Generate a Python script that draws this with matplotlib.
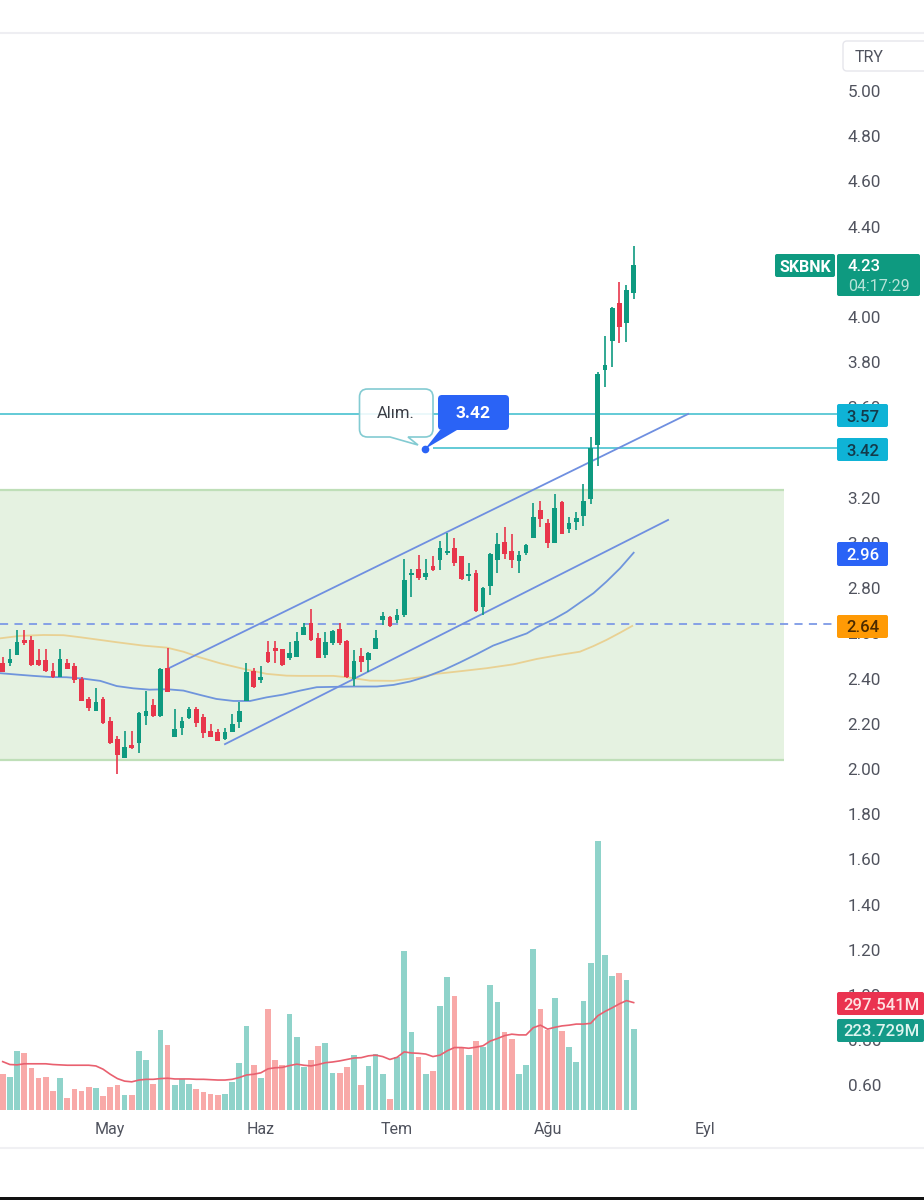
"""SKBNK daily candles with volume, channel and price tags."""
import matplotlib
matplotlib.use('Agg')
import matplotlib.pyplot as plt
import numpy as np
from matplotlib.patches import FancyBboxPatch, PathPatch, Rectangle
from matplotlib.path import Path

plt.rcParams['font.family'] = ['Roboto', 'DejaVu Sans']

OPENS = [2.471, 2.471, 2.505, 2.571, 2.571, 2.482, 2.482, 2.435, 2.409, 2.468,
         2.457, 2.400, 2.308, 2.258, 2.308, 2.214, 2.131, 2.050, 2.106, 2.114,
         2.236, 2.283, 2.233, 2.449, 2.143, 2.180, 2.224, 2.266, 2.232, 2.168,
         2.162, 2.131, 2.162, 2.210, 2.301, 2.434, 2.394, 2.519, 2.537, 2.530,
         2.490, 2.494, 2.593, 2.645, 2.578, 2.505, 2.556, 2.620, 2.567, 2.398,
         2.500, 2.483, 2.531, 2.660, 2.674, 2.660, 2.682, 2.857, 2.885, 2.851,
         2.898, 2.925, 2.957, 2.977, 2.943, 2.854, 2.869, 2.716, 2.810, 2.925,
         3.006, 2.965, 2.922, 2.955, 3.024, 3.146, 3.090, 3.002, 3.183, 3.062,
         3.095, 3.120, 3.193, 3.434, 3.765, 3.895, 4.063, 3.975, 4.105]
HIGHS = [2.497, 2.530, 2.615, 2.615, 2.590, 2.530, 2.530, 2.468, 2.530, 2.485,
         2.468, 2.406, 2.320, 2.357, 2.320, 2.229, 2.148, 2.168, 2.168, 2.254,
         2.345, 2.308, 2.449, 2.536, 2.266, 2.229, 2.276, 2.276, 2.242, 2.198,
         2.177, 2.183, 2.242, 2.295, 2.468, 2.449, 2.456, 2.567, 2.567, 2.530,
         2.561, 2.608, 2.645, 2.708, 2.600, 2.608, 2.615, 2.645, 2.571, 2.527,
         2.534, 2.519, 2.615, 2.693, 2.677, 2.707, 2.928, 2.884, 2.947, 2.928,
         2.943, 3.009, 3.043, 3.021, 2.944, 2.913, 2.881, 2.804, 2.957, 3.043,
         3.070, 3.040, 2.965, 2.996, 3.179, 3.188, 3.105, 3.216, 3.186, 3.117,
         3.136, 3.260, 3.471, 3.758, 3.916, 4.043, 4.156, 4.142, 4.316]
LOWS = [2.428, 2.457, 2.505, 2.549, 2.457, 2.457, 2.431, 2.401, 2.406, 2.443,
        2.379, 2.303, 2.257, 2.258, 2.199, 2.111, 1.978, 2.050, 2.089, 2.070,
        2.195, 2.229, 2.229, 2.339, 2.143, 2.151, 2.221, 2.188, 2.136, 2.140,
        2.123, 2.129, 2.162, 2.180, 2.301, 2.360, 2.379, 2.468, 2.468, 2.457,
        2.482, 2.494, 2.593, 2.568, 2.490, 2.490, 2.549, 2.549, 2.401, 2.367,
        2.431, 2.431, 2.530, 2.637, 2.630, 2.645, 2.674, 2.760, 2.836, 2.836,
        2.878, 2.881, 2.947, 2.898, 2.836, 2.832, 2.696, 2.682, 2.770, 2.869,
        2.929, 2.888, 2.869, 2.947, 3.021, 3.072, 2.977, 2.999, 3.039, 3.046,
        3.058, 3.075, 3.173, 3.341, 3.692, 3.777, 3.884, 3.888, 4.078]
CLOSES = [2.428, 2.488, 2.561, 2.556, 2.460, 2.460, 2.434, 2.409, 2.488, 2.443,
          2.394, 2.303, 2.269, 2.295, 2.202, 2.114, 2.062, 2.099, 2.092, 2.247,
          2.258, 2.233, 2.443, 2.339, 2.177, 2.214, 2.266, 2.205, 2.161, 2.140,
          2.126, 2.165, 2.198, 2.258, 2.431, 2.365, 2.409, 2.472, 2.524, 2.460,
          2.512, 2.567, 2.627, 2.571, 2.490, 2.561, 2.611, 2.556, 2.406, 2.480,
          2.475, 2.512, 2.578, 2.677, 2.633, 2.680, 2.836, 2.866, 2.847, 2.869,
          2.881, 2.977, 2.966, 2.910, 2.842, 2.863, 2.701, 2.800, 2.952, 2.996,
          2.952, 2.925, 2.947, 2.991, 3.117, 3.106, 2.999, 3.154, 3.040, 3.090,
          3.109, 3.186, 3.419, 3.748, 3.788, 4.038, 3.957, 4.120, 4.230]

# volume in millions
VOLUMES = [99, 92, 164, 157, 115, 88, 92, 54, 88, 34,
           57, 54, 65, 61, 38, 65, 68, 42, 42, 164,
           138, 73, 222, 180, 68, 86, 73, 57, 49, 45,
           42, 45, 77, 130, 234, 126, 88, 280, 138, 125,
           265, 203, 118, 138, 176, 185, 103, 103, 118, 152,
           68, 123, 155, 99, 30, 148, 441, 215, 148, 99,
           107, 288, 368, 315, 171, 152, 192, 175, 345, 299,
           215, 198, 99, 126, 445, 280, 222, 311, 219, 175,
           134, 303, 406, 746, 430, 372, 380, 360, 224]
VOLUME_MA = [134, 126, 125, 128, 128, 128, 128, 126, 125, 124,
             124, 124, 124, 122, 113, 99, 87, 80, 78, 83,
             85, 85, 87, 88, 86, 86, 86, 85, 85, 84,
             83, 83, 85, 90, 97, 99, 103, 114, 117, 118,
             123, 127, 124, 122, 126, 131, 133, 136, 140, 144,
             145, 150, 152, 148, 140, 146, 161, 158, 157, 155,
             148, 152, 164, 173, 173, 171, 174, 178, 191, 198,
             206, 210, 208, 208, 228, 235, 224, 229, 233, 235,
             238, 238, 240, 261, 273, 283, 294, 303, 297.5]

BLUE_X = [-0.4, 1.9, 4.3, 6.6, 8.9, 11.2, 13.6, 15.9, 18.2, 20.5, 22.9, 25.2, 27.5,
          29.8, 32.2, 34.5, 36.8, 39.1, 41.5, 43.8, 48.9, 52.2, 54.5, 56.8, 59.1,
          61.5, 63.8, 66.1, 68.4, 70.8, 73.1, 74.5, 76.8, 78.7, 80.5, 82.4, 84.2, 86.1, 88]
BLUE_Y = [2.424, 2.418, 2.412, 2.407, 2.406, 2.400, 2.390, 2.367, 2.357, 2.351, 2.353,
          2.347, 2.328, 2.310, 2.301, 2.301, 2.317, 2.329, 2.347, 2.362, 2.365, 2.365,
          2.372, 2.387, 2.409, 2.438, 2.472, 2.508, 2.546, 2.574, 2.600, 2.627, 2.662,
          2.696, 2.736, 2.778, 2.829, 2.888, 2.957]
TAN_X = [-0.4, 2.4, 5.7, 8.5, 10.8, 13.6, 15.9, 19.6, 22.9, 25.2, 27.5, 30.3, 33.6,
         36.8, 39.6, 41.5, 44.3, 46.1, 48, 51.2, 54.5, 58.2, 60.5, 64.2, 67.5, 71.2,
         74.5, 77.7, 80.5, 82.4, 84.2, 86.1, 87.8]
TAN_Y = [2.578, 2.589, 2.593, 2.592, 2.583, 2.571, 2.561, 2.546, 2.537, 2.519, 2.494,
         2.468, 2.443, 2.421, 2.413, 2.412, 2.412, 2.412, 2.406, 2.391, 2.390, 2.406,
         2.421, 2.434, 2.446, 2.463, 2.487, 2.505, 2.519, 2.544, 2.571, 2.603, 2.633]

UPPER_X, UPPER_Y = [23.3, 95.6], [2.448, 3.571]
LOWER_X, LOWER_Y = [31, 92.8], [2.11, 3.102]

BOX_RIGHT, BOX_LOW, BOX_HIGH = 109, 2.04, 3.234
LEVEL_TOP, LEVEL_BUY, LEVEL_DASH = 3.57, 3.42, 2.64
BUY_BAR = 59

# 3.40 and 4.20 sit fully behind the price tags in the chart, so they are left out
PRICE_TICKS = [0.6, 0.8, 1.0, 1.2, 1.4, 1.6, 1.8, 2.0, 2.2, 2.4, 2.6, 2.8,
               3.0, 3.2, 3.6, 3.8, 4.0, 4.4, 4.6, 4.8, 5.0]
MONTH_BARS = [15, 36, 55, 76, 98]
MONTHS = ['May', 'Haz', 'Tem', 'Ağu', 'Eyl']

GREEN, RED = '#0e9a80', '#e8364b'
VOL_GREEN, VOL_RED = '#8fd3ca', '#f8a9a8'
TEXT = '#50535e'
CYAN_LINE, CYAN_TAG = '#56c6d3', '#0fb3d6'
BLUE_TAG, ORANGE = '#2a63f6', '#ff9a05'

W, H = 924, 1200
PLOT_L, PLOT_R, PLOT_T, PLOT_B = 0, 838, 33, 1110
BAR0, BAR_STEP = 2.7, 7.17
PX_PER_PRICE, PX_PER_MILLION = 226, 1 / 2.77


def price_at(py):
    return 5 - (py - 91) / PX_PER_PRICE


def tag(over, x0, x1, y0, y1, color, text, text_color='white', size=12, tx=None, weight='medium'):
    over.add_patch(FancyBboxPatch((x0 + 1, y0 + 1), x1 - x0 - 2, y1 - y0 - 2,
                                  boxstyle='round,pad=1,rounding_size=2',
                                  fc=color, ec='none', zorder=5))
    over.text(tx if tx else (x0 + x1) / 2, (y0 + y1) / 2, text, color=text_color,
              fontsize=size, fontweight=weight, ha='center', va='center_baseline', zorder=6)


def bubble_path(x0, x1, y0, y1, r, tail):
    """Rounded box with a pointed tail on its bottom edge."""
    verts = [(x0 + r, y0), (x1 - r, y0), (x1, y0), (x1, y0 + r), (x1, y1 - r),
             (x1, y1), (x1 - r, y1), tail[0], tail[1], tail[2], (x0 + r, y1),
             (x0, y1), (x0, y1 - r), (x0, y0 + r), (x0, y0), (x0 + r, y0)]
    codes = [Path.MOVETO, Path.LINETO, Path.CURVE3, Path.CURVE3, Path.LINETO,
             Path.CURVE3, Path.CURVE3, Path.LINETO, Path.LINETO, Path.LINETO,
             Path.LINETO, Path.CURVE3, Path.CURVE3, Path.LINETO, Path.CURVE3,
             Path.CURVE3]
    return Path(verts, codes)


def main():
    fig = plt.figure(figsize=(W / 100, H / 100), dpi=100, facecolor='white')
    ax = fig.add_axes([PLOT_L / W, 1 - PLOT_B / H, (PLOT_R - PLOT_L) / W, (PLOT_B - PLOT_T) / H])
    vol = ax.twinx()
    ax.set_zorder(vol.get_zorder() + 1)
    ax.patch.set_visible(False)

    bars = np.arange(len(OPENS))
    opens, highs, lows, closes = map(np.array, (OPENS, HIGHS, LOWS, CLOSES))
    up = closes >= opens

    # zone and levels
    ax.add_patch(Rectangle((-2, BOX_LOW), BOX_RIGHT + 2, BOX_HIGH - BOX_LOW, fc='#e5f2e1', ec='none', zorder=1))
    ax.hlines([BOX_LOW, BOX_HIGH], -2, BOX_RIGHT, color='#bfdfb8', lw=1.6, zorder=1.2)
    ax.axhline(LEVEL_TOP, color=CYAN_LINE, lw=1.3, zorder=2)
    ax.hlines(LEVEL_BUY, BUY_BAR + 1, 200, color=CYAN_LINE, lw=1.3, zorder=2)
    ax.axhline(LEVEL_DASH, color='#7d9ae6', lw=1.3, dashes=(4.5, 3.5), zorder=2)

    ax.plot(TAN_X, TAN_Y, color='#e9d193', lw=1.3, zorder=2)
    ax.plot(BLUE_X, BLUE_Y, color='#6f95dc', lw=1.3, zorder=2.1)
    ax.plot(UPPER_X, UPPER_Y, color='#6f8fe0', lw=1.3, zorder=2.2)
    ax.plot(LOWER_X, LOWER_Y, color='#6f8fe0', lw=1.3, zorder=2.2)

    colors = np.where(up, GREEN, RED)
    ax.vlines(bars, lows, highs, color=colors, lw=1.2, zorder=3)
    ax.bar(bars, np.abs(closes - opens), 0.66, bottom=np.minimum(opens, closes), color=colors, zorder=3.1)

    # volume pane
    vol.bar(bars, VOLUMES, 0.8, color=np.where(up, VOL_GREEN, VOL_RED), zorder=2)
    vol.plot(bars, VOLUME_MA, color='#e9606f', lw=1.2, zorder=3)
    vol.set_ylim(0, (PLOT_B - PLOT_T) / PX_PER_MILLION)
    vol.yaxis.set_visible(False)

    ax.set_xlim((PLOT_L - BAR0) / BAR_STEP, (PLOT_R - BAR0) / BAR_STEP)
    ax.set_ylim(price_at(PLOT_B), price_at(PLOT_T))
    ax.yaxis.tick_right()
    ax.set_yticks(PRICE_TICKS, [f'{p:.2f}' for p in PRICE_TICKS])
    ax.set_xticks(MONTH_BARS, MONTHS)
    ax.tick_params(axis='y', length=0, pad=7, labelsize=12.3, labelcolor=TEXT)
    ax.tick_params(axis='x', length=0, pad=8.5, labelsize=11.5, labelcolor=TEXT)
    for a in (ax, vol):
        for side in a.spines.values():
            side.set_visible(False)

    # overlay in pixel coordinates for the chart furniture
    over = fig.add_axes([0, 0, 1, 1], facecolor='none')
    over.set_zorder(ax.get_zorder() + 1)
    over.set_xlim(0, W)
    over.set_ylim(H, 0)
    over.axis('off')

    over.plot([0, W], [33, 33], color='#eeeef2', lw=1.5)
    over.plot([0, W], [1148, 1148], color='#f0f0f3', lw=1.5)
    over.add_patch(Rectangle((0, 1197), W, 3, fc='#111111', ec='none'))
    over.add_patch(FancyBboxPatch((843, 41), 90, 30, boxstyle='round,pad=0,rounding_size=4',
                                  fc='white', ec='#e6e6ec', lw=1))
    over.text(869, 56, 'TRY', color=TEXT, fontsize=11.5, ha='center', va='center_baseline')

    tag(over, 775, 835, 254, 277, GREEN, 'SKBNK', size=11.5, weight='bold')
    over.add_patch(FancyBboxPatch((838, 255), 81, 40, boxstyle='round,pad=1,rounding_size=2',
                                  fc=GREEN, ec='none', zorder=5))
    over.text(848, 265, '4.23', color='white', fontsize=12, fontweight='medium', va='center_baseline', zorder=6)
    over.text(848, 285, '04:17:29', color='#b7e3d8', fontsize=11.5, va='center_baseline', zorder=6)
    tag(over, 837, 888, 404, 427, CYAN_TAG, '3.57', '#143a4a', tx=863)
    tag(over, 837, 888, 438, 461, CYAN_TAG, '3.42', '#143a4a', tx=863)
    tag(over, 837, 888, 542, 566, BLUE_TAG, '2.96', tx=863)
    tag(over, 837, 888, 615, 638, ORANGE, '2.64', '#4a2a00', tx=863)
    tag(over, 837, 924, 992, 1015, '#ea3350', '297.541M', '#ffe3e3', tx=882)
    tag(over, 837, 924, 1019, 1042, '#149a88', '223.729M', '#dff5f0', tx=882)

    # buy note
    over.add_patch(PathPatch(bubble_path(359.5, 433, 389, 437, 8, [(408, 437), (418, 445), (390, 437)]),
                             fc=(1, 1, 1, 0.88), ec='#83cbd2', lw=1.2, zorder=4))
    over.text(396, 412, 'Alım.', color='#3a3d45', fontsize=12, ha='center', va='center_baseline', zorder=5)
    over.add_patch(PathPatch(bubble_path(438, 509, 395, 430, 4, [(457, 430), (425, 449), (440, 430)]),
                             fc=BLUE_TAG, ec='none', zorder=4))
    over.text(473.5, 412.5, '3.42', color='white', fontsize=12.5, fontweight='bold',
              ha='center', va='center_baseline', zorder=5)
    over.plot([425], [449], 'o', ms=4.5, color=BLUE_TAG, zorder=5)

    fig.savefig('out.png', dpi=100, facecolor='white')


if __name__ == '__main__':
    main()
